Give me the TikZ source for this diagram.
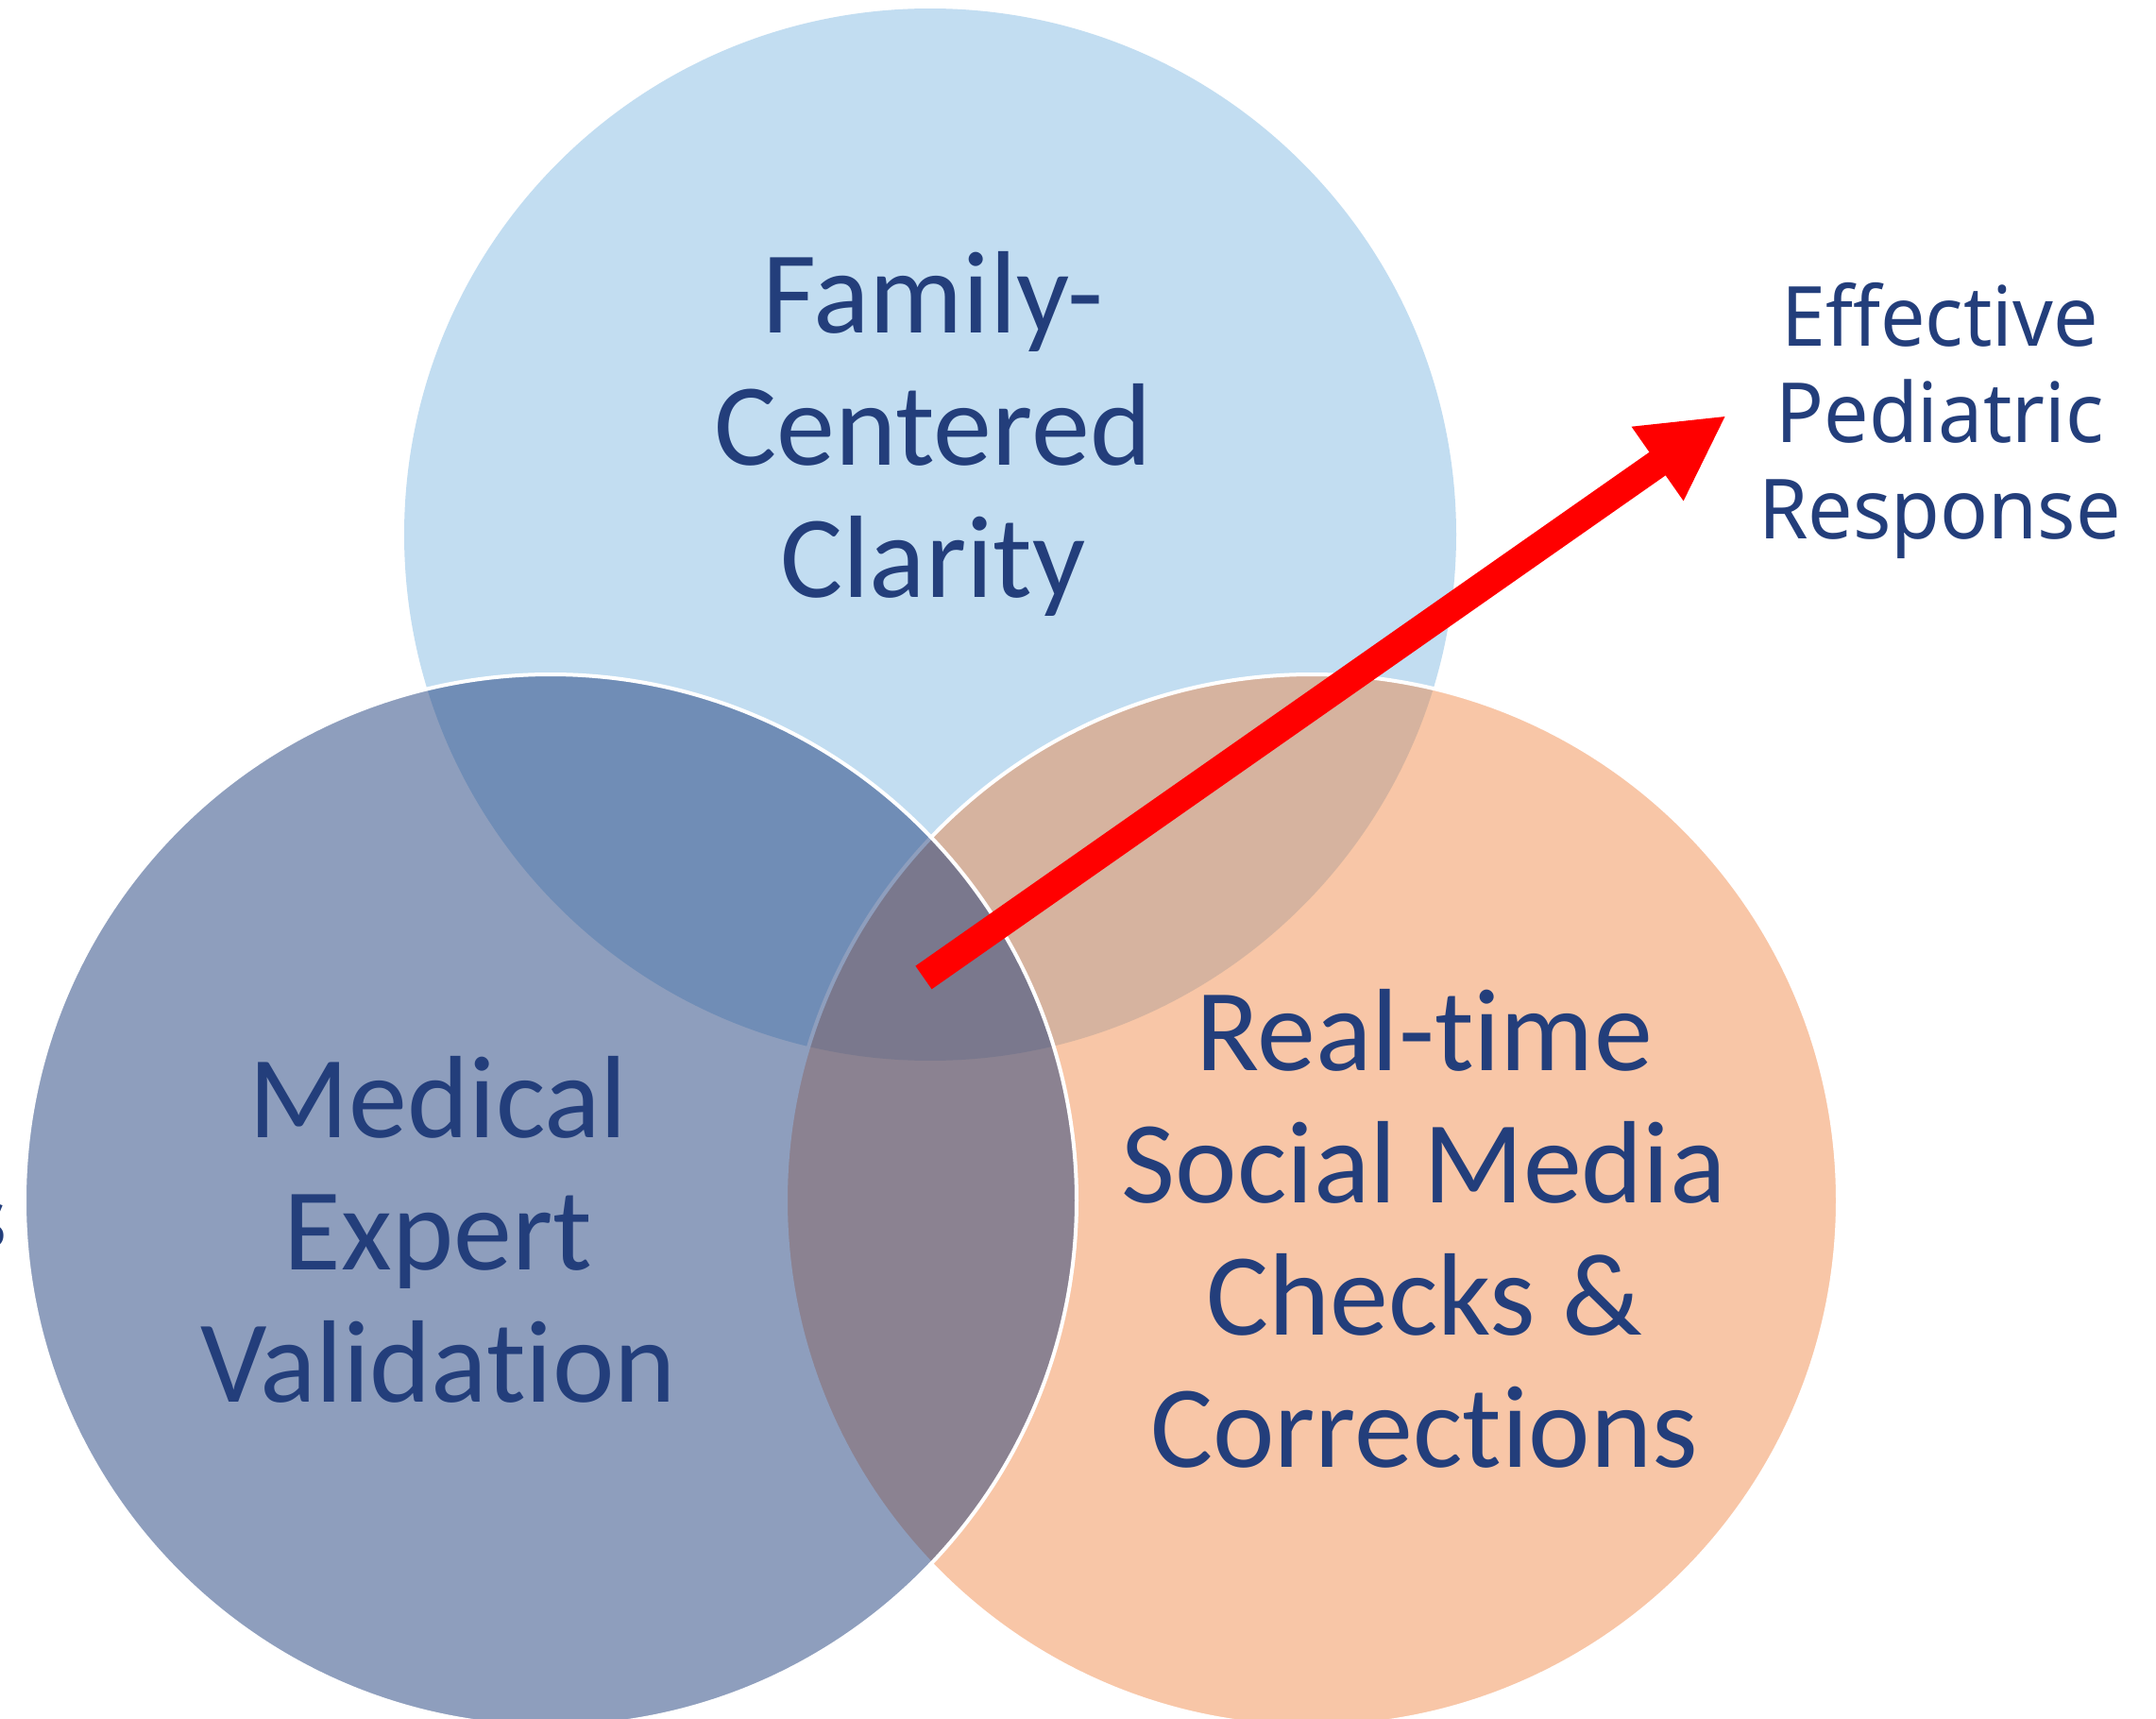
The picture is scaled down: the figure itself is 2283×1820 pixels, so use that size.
\documentclass[tikz,border=0pt]{standalone}
\usepackage{fontspec}
\setmainfont{Carlito}[Ligatures={NoCommon,NoRequired,NoContextual}]
\newfontfamily\respfont[FakeStretch=0.96]{Noto Sans}
\usetikzlibrary{arrows.meta}
\definecolor{labblue}{RGB}{35,62,123}
\definecolor{topblue}{RGB}{194,221,241}
\definecolor{leftnavy}{RGB}{31,63,125}
\definecolor{rightorange}{RGB}{240,130,60}
\tikzstyle{vennnode} = [circle, minimum size=111.4mm, inner sep=0pt]
\tikzstyle{labnode} = [align=center, text=labblue, inner sep=0pt, font=\fontsize{35.3}{39.8}\selectfont]
\tikzstyle{outnode} = [align=center, text=labblue, inner sep=0pt, font=\respfont\fontsize{25}{29}\selectfont]

\begin{document}
\begin{tikzpicture}[x=0.1mm, y=-0.1mm]
  \clip (0,0) rectangle (2283,1820);
  \fill[white] (0,0) rectangle (2283,1820);

  \node[vennnode, fill=topblue] (fam) at (985,566) {};
  \node[vennnode, fill=rightorange, fill opacity=0.45, draw=white, line width=0.4mm] (soc) at (1389,1271) {};
  \node[vennnode, fill=leftnavy, fill opacity=0.5, draw=white, line width=0.4mm] (med) at (583,1271) {};

  \node[labnode, anchor=base] (famlab) at (988,632) {Family-\\Centered\\Clarity};
  \node[labnode, anchor=base] (medlab) at (464,1484) {Medical\\Expert\\Validation};
  \node[labnode, anchor=base] (soclab) at (1508,1553) {Real-time\\Social Media\\Checks \&\\Corrections};
  \node[outnode, anchor=base] (resp) at (2054,570) {Effective\\Pediatric\\Response};
  \node[outnode, anchor=base east] (cut) at (8.5,1321) {s};

  \coordinate (hub) at (978,1035);
  \coordinate (tip) at (1828,440);
  \draw[red, line width=3mm, -{Triangle[length=8.9mm, width=8.9mm]}] (hub) -- (tip);
\end{tikzpicture}
\end{document}
